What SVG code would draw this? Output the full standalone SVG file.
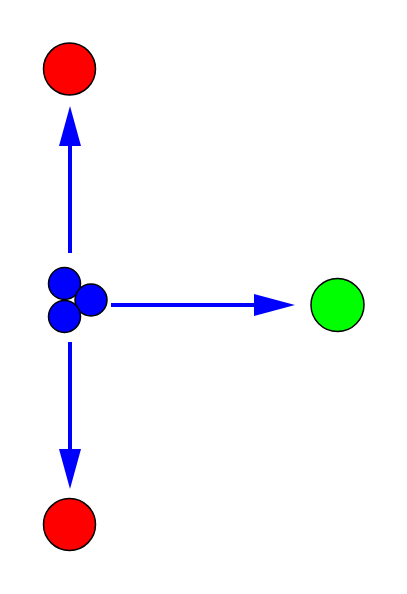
<svg xmlns="http://www.w3.org/2000/svg" width="407" height="594" viewBox="0 0 407 594">
<style>
.node{stroke:#000;stroke-width:1.5}
.edge{stroke:#0000ff;stroke-width:4;fill:none}
.head{fill:#0000ff;stroke:none}
</style>
<rect width="407" height="594" fill="#fff"/>
<g id="connectors">
<line class="edge" x1="70" y1="253" x2="70" y2="144"/>
<polygon class="head" points="70,106 81,146 59,146"/>
<line class="edge" x1="70" y1="342" x2="70" y2="450"/>
<polygon class="head" points="70,489 81,449 59,449"/>
<line class="edge" x1="111" y1="305" x2="256" y2="305"/>
<polygon class="head" points="295,305 254,294 254,316"/>
</g>
<g id="top"><circle class="node" cx="69.5" cy="69" r="26" fill="#ff0000"/></g>
<g id="bottom"><circle class="node" cx="69.5" cy="524.5" r="26" fill="#ff0000"/></g>
<g id="right"><circle class="node" cx="337.5" cy="305" r="26.5" fill="#00ff00"/></g>
<g id="center">
<circle class="node" cx="64.5" cy="283.5" r="16" fill="#0000ff"/>
<circle class="node" cx="91" cy="300" r="16" fill="#0000ff"/>
<circle class="node" cx="64.5" cy="316.5" r="16" fill="#0000ff"/>
</g>
</svg>
